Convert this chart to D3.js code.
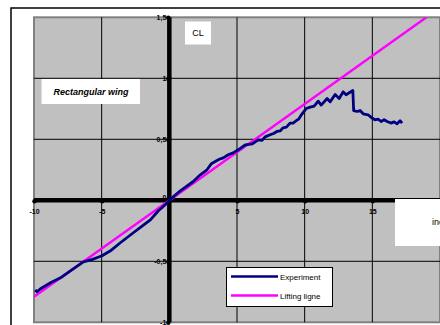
<!DOCTYPE html>
<html>
<head>
<meta charset="utf-8">
<script src="https://cdn.jsdelivr.net/npm/d3@7"></script>
<style>
  html, body { margin: 0; padding: 0; background: #fff; }
  svg { display: block; }
  text { font-family: "Liberation Sans", Arial, sans-serif; }
</style>
</head>
<body>
<svg id="chart" width="440" height="325"></svg>
<script>
// Angle of incidence (deg) and measured lift coefficient
const expAlpha = [-9.91, -9.78, -9.52, -8.78, -8.04, -7.31, -6.35, -5.68, -4.97, -4.35,
  -3.62, -2.66, -1.99, -1.40, -0.81, -0.30, 0.07, 0.81, 1.77, 2.29,
  2.78, 3.10, 3.39, 3.69, 3.99, 4.35, 4.72, 5.09, 5.61, 6.13,
  6.57, 6.85, 7.08, 7.45, 7.70, 7.95, 8.20, 8.41, 8.65, 8.93,
  9.15, 9.37, 9.55, 9.74, 10.11, 10.41,
  10.70, 11.00, 11.22, 11.66, 11.88, 12.25, 12.55, 12.84, 13.06, 13.56,
  13.62, 13.87, 14.10, 14.32, 14.69, 14.98, 15.20, 15.42, 15.65, 15.87,
  16.09, 16.38, 16.61, 16.83, 17.05, 17.20];
const expCL = [-0.736, -0.750, -0.725, -0.676, -0.635, -0.578, -0.504, -0.484, -0.455, -0.414,
  -0.348, -0.266, -0.209, -0.160, -0.086, -0.037, 0.008, 0.078, 0.154, 0.209,
  0.250, 0.299, 0.318, 0.336, 0.348, 0.373, 0.389, 0.414, 0.455, 0.463,
  0.496, 0.492, 0.520, 0.537, 0.548, 0.564, 0.570, 0.594, 0.600, 0.633,
  0.632, 0.652, 0.665, 0.698, 0.752, 0.764,
  0.772, 0.813, 0.780, 0.834, 0.807, 0.867, 0.834, 0.889, 0.865, 0.900,
  0.734, 0.728, 0.736, 0.709, 0.701, 0.674, 0.660, 0.666, 0.646, 0.660,
  0.646, 0.633, 0.643, 0.627, 0.652, 0.633];

// Lifting-line theory (straight line)
const llAlpha = [-10, 19];
const llCL = [-0.79, 1.5];

const xTicks = [-10, -5, 5, 10, 15];
const xTickLabels = ["-10", "-5", "5", "10", "15"];
const yTicks = [1.5, 1, 0.5, 0, -0.5, -1];
const yTickLabels = ["1,5", "1", "0,5", "0", "-0,5", "-1"];
const seriesNames = ["Experiment", "Lifting ligne"];
const seriesColors = ["#000080", "#FF00FF"];

const svg = d3.select("#chart");

const x = d3.scaleLinear().domain([-10, 20]).range([34, 440]);
const y = d3.scaleLinear().domain([-1, 1.5]).range([322.3, 17.3]);

// Outer chart frame
svg.append("rect").attr("x", 11).attr("y", 8).attr("width", 440).attr("height", 330)
  .attr("fill", "#fff").attr("stroke", "#000").attr("stroke-width", 1.5);

// Plot area
svg.append("rect")
  .attr("x", x(-10)).attr("y", y(1.5))
  .attr("width", x(20) - x(-10)).attr("height", y(-1) - y(1.5))
  .attr("fill", "#C0C0C0").attr("stroke", "#808080").attr("stroke-width", 2);

svg.append("clipPath").attr("id", "plotclip").append("rect")
  .attr("x", x(-10)).attr("y", y(1.5))
  .attr("width", x(20) - x(-10)).attr("height", y(-1) - y(1.5));

// Grid lines
const grid = svg.append("g");
grid.selectAll("line.v").data(d3.range(-5, 20, 5)).join("line")
  .attr("x1", d => x(d)).attr("x2", d => x(d))
  .attr("y1", y(1.5)).attr("y2", y(-1))
  .attr("stroke", "#000").attr("stroke-width", 1);
grid.selectAll("line.h").data([1, 0.5, -0.5]).join("line")
  .attr("x1", x(-10)).attr("x2", x(20))
  .attr("y1", d => y(d)).attr("y2", d => y(d))
  .attr("stroke", "#000").attr("stroke-width", 1);

// Axes crossing at the origin
const xAxis = d3.axisBottom(x).tickValues(xTicks).tickSize(0)
  .tickFormat((d, i) => xTickLabels[i]);
const gx = svg.append("g").attr("transform", `translate(0,${y(0)})`).call(xAxis);
gx.select(".domain").attr("stroke", "#000").attr("stroke-width", 4.5)
  .attr("d", `M${x(-10)},0H${x(20)}`);
gx.selectAll(".tick text").attr("dy", 0).attr("y", 14)
  .attr("font-size", 7).attr("font-weight", "bold").attr("font-family", "Liberation Sans, Arial, sans-serif")
  .attr("fill", "#000");
gx.selectAll(".tick").append("circle").attr("r", 2.2).attr("cy", 1).attr("fill", "#000");

const yAxis = d3.axisLeft(y).tickValues(yTicks).tickSize(0)
  .tickFormat((d, i) => yTickLabels[i]);
const gy = svg.append("g").attr("transform", `translate(${x(0)},0)`).call(yAxis);
gy.select(".domain").attr("stroke", "#000").attr("stroke-width", 4.5)
  .attr("d", `M0,${y(1.5)}V${y(-1)}`);
gy.selectAll(".tick text").attr("x", -3).attr("dy", "0.35em")
  .attr("font-size", 7).attr("font-weight", "bold").attr("font-family", "Liberation Sans, Arial, sans-serif")
  .attr("fill", "#000");
gy.selectAll(".tick").filter(d => d === 0).select("text").attr("dy", "-0.1em");
gy.selectAll(".tick").append("circle").attr("r", 2.2).attr("cx", -1).attr("fill", "#000");
svg.selectAll(".domain").raise();

// Series lines
const line = d3.line().x(d => x(d[0])).y(d => y(d[1]));
const plot = svg.append("g").attr("clip-path", "url(#plotclip)");
plot.append("path")
  .datum(llAlpha.map((a, i) => [a, llCL[i]]))
  .attr("d", line).attr("fill", "none")
  .attr("stroke", seriesColors[1]).attr("stroke-width", 2.5);
plot.append("path")
  .datum(expAlpha.map((a, i) => [a, expCL[i]]))
  .attr("d", line).attr("fill", "none")
  .attr("stroke", seriesColors[0]).attr("stroke-width", 2.8)
  .attr("stroke-linejoin", "round");

// Axis titles in white boxes
svg.append("rect").attr("x", 185).attr("y", 21.5).attr("width", 26).attr("height", 23).attr("fill", "#fff");
svg.append("text").attr("x", 198).attr("y", 36).attr("text-anchor", "middle")
  .attr("font-size", 9).text("CL");

svg.append("rect").attr("x", 395).attr("y", 199).attr("width", 50).attr("height", 47).attr("fill", "#fff");
svg.append("text").attr("x", 432).attr("y", 225).attr("font-size", 9).text("incidence");

// Chart label
svg.append("rect").attr("x", 41.5).attr("y", 79).attr("width", 98.5).attr("height", 25).attr("fill", "#fff");
svg.append("text").attr("x", 91).attr("y", 94.5).attr("text-anchor", "middle")
  .attr("font-size", 9).attr("font-weight", "bold").attr("font-style", "italic")
  .text("Rectangular wing");

// Legend
const lg = svg.append("g");
lg.append("rect").attr("x", 226.5).attr("y", 267.5).attr("width", 106).attr("height", 39)
  .attr("fill", "#fff").attr("stroke", "#000").attr("stroke-width", 1);
seriesNames.forEach((name, i) => {
  const ly = 276.5 + i * 19;
  lg.append("line").attr("x1", 231).attr("x2", 278).attr("y1", ly).attr("y2", ly)
    .attr("stroke", seriesColors[i]).attr("stroke-width", 2.5);
  lg.append("text").attr("x", 280).attr("y", ly + 3).attr("font-size", 8).text(name);
});
</script>
</body>
</html>
